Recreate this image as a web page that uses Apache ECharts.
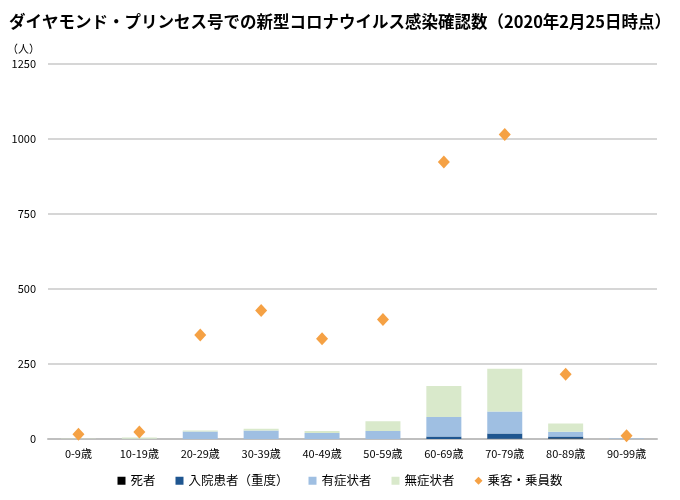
<!DOCTYPE html>
<html>
<head>
<meta charset="utf-8">
<script src="https://cdn.jsdelivr.net/npm/echarts@6/dist/echarts.min.js"></script>
<style>
html,body{margin:0;padding:0;background:#fff;}
#chart{width:680px;height:500px;}
</style>
</head>
<body>
<div id="chart"></div>
<script>
// 年齢層
var ageArr = ['0-9歳', '10-19歳', '20-29歳', '30-39歳', '40-49歳', '50-59歳', '60-69歳', '70-79歳', '80-89歳', '90-99歳'];
// 感染確認数の内訳
var deathArr = [0, 0, 0, 0, 0, 0, 0, 1, 2, 0];
var severeArr = [0, 0, 0, 0, 0, 0, 8, 17, 6, 0];
var symptomArr = [0, 1, 25, 28, 20, 27, 65, 74, 16, 2];
var noSymptomArr = [1, 4, 3, 6, 7, 32, 104, 142, 28, 0];
// 乗客・乗員数
var passengerArr = [16, 23, 347, 428, 334, 398, 923, 1015, 216, 11];
var yTicks = [0, 250, 500, 750, 1000, 1250];

var font = '"Noto Sans CJK JP", sans-serif';

var chart = echarts.init(document.getElementById('chart'));
var barStyle = function(color) {
	return {color: color};
};
var option = {
	animation: false,
	textStyle: {fontFamily: font},
	title: {
		text: 'ダイヤモンド・プリンセス号での新型コロナウイルス感染確認数（2020年2月25日時点）',
		left: 'center',
		top: 8,
		textStyle: {fontFamily: font, fontSize: 16.5, fontWeight: 'bold', color: '#000'}
	},
	legend: {
		bottom: 8,
		left: 'center',
		itemWidth: 8,
		itemHeight: 8,
		itemGap: 20,
		textStyle: {fontFamily: font, fontSize: 12.5, color: '#000'},
		data: [
			{name: '死者', icon: 'rect'},
			{name: '入院患者（重度）', icon: 'rect'},
			{name: '有症状者', icon: 'rect'},
			{name: '無症状者', icon: 'rect'},
			{name: '乗客・乗員数', icon: 'diamond'}
		]
	},
	grid: {
		left: 48,
		right: 23,
		top: 64,
		bottom: 61
	},
	xAxis: {
		type: 'category',
		data: ageArr,
		axisLine: {lineStyle: {color: '#bfbfbf', width: 2}},
		axisTick: {show: false},
		axisLabel: {color: '#000', fontSize: 11, margin: 9}
	},
	yAxis: {
		type: 'value',
		min: yTicks[0],
		max: yTicks[yTicks.length - 1],
		interval: 250,
		name: '（人）',
		nameGap: 10,
		nameTextStyle: {color: '#000', fontSize: 11, align: 'right', padding: [0, 8, 0, 0]},
		axisLine: {show: false},
		axisTick: {show: false},
		axisLabel: {color: '#000', fontSize: 11, margin: 12, formatter: function(v) { return String(v); }},
		splitLine: {lineStyle: {color: '#c8c8c8', width: 1.5}}
	},
	series: [{
		name: '死者',
		type: 'bar',
		stack: 'case',
		barWidth: 35,
		itemStyle: barStyle('#000000'),
		data: deathArr
	}, {
		name: '入院患者（重度）',
		type: 'bar',
		stack: 'case',
		itemStyle: barStyle('#1f5690'),
		data: severeArr
	}, {
		name: '有症状者',
		type: 'bar',
		stack: 'case',
		itemStyle: barStyle('#9fbfe2'),
		data: symptomArr
	}, {
		name: '無症状者',
		type: 'bar',
		stack: 'case',
		itemStyle: barStyle('#d9e9cb'),
		data: noSymptomArr
	}, {
		name: '乗客・乗員数',
		type: 'scatter',
		symbol: 'diamond',
		symbolSize: [12, 13],
		itemStyle: {color: '#f5a144', opacity: 1},
		z: 5,
		data: passengerArr
	}]
};
chart.setOption(option);
</script>
</body>
</html>
